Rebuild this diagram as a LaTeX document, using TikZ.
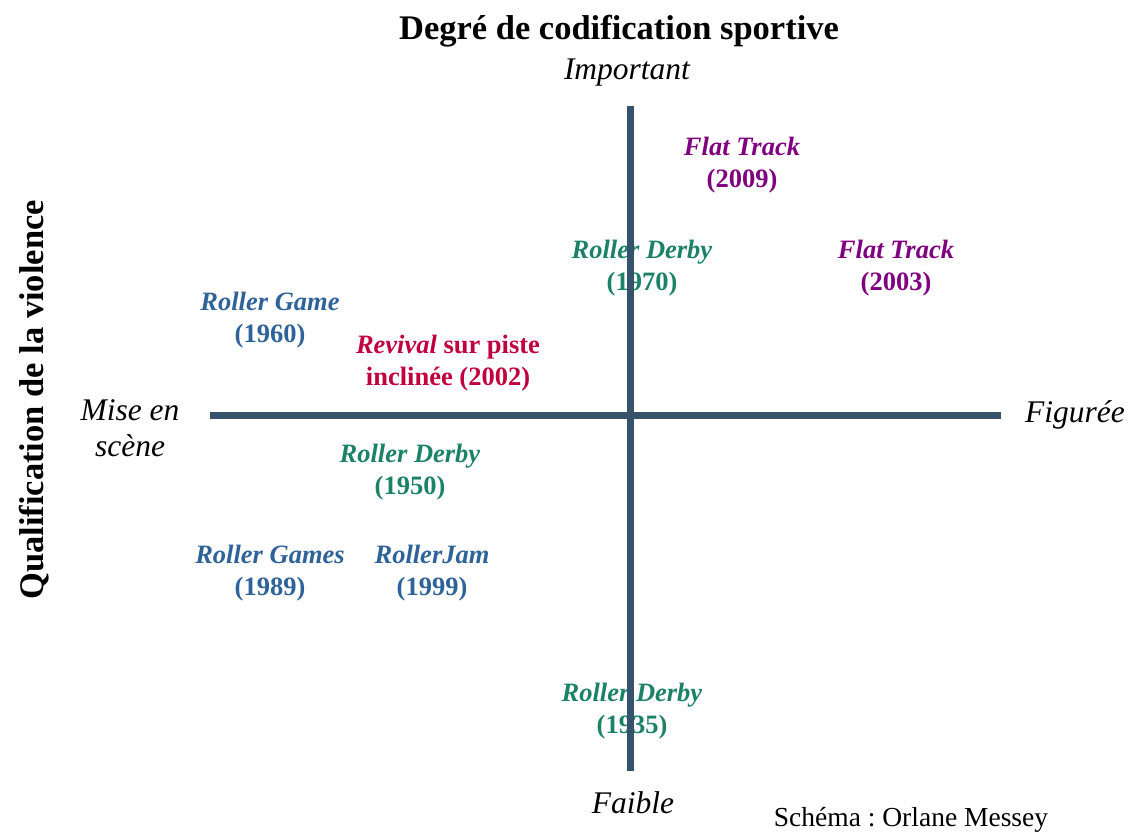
\documentclass[tikz,border=0pt]{standalone}
\usepackage{fontspec}
\setmainfont{Liberation Serif}
\usepackage{tikz}
\usetikzlibrary{positioning}
\definecolor{axe}{HTML}{36536B}
\definecolor{bleu}{HTML}{2E6399}
\definecolor{vert}{HTML}{1B8268}
\definecolor{violet}{HTML}{7F007F}
\definecolor{rouge}{HTML}{C0003F}
\frenchspacing

\begin{document}
\begin{tikzpicture} [x=1pt,y=-1pt,
    axis/.style={line width=7pt,draw=axe},
    pole/.style={font=\fontsize{31.5}{36}\selectfont\itshape,align=center,inner sep=0pt},
    era/.style={font=\fontsize{26.5}{32}\selectfont\bfseries,align=center,inner sep=0pt}]
       \useasboundingbox (0,0) rectangle (1130,832);
       % titres
       \node[font=\fontsize{34.5}{40}\selectfont\bfseries] (titre) at (619,31) {Degré de codification sportive};
       \node[font=\fontsize{34.5}{40}\selectfont\bfseries,rotate=90] (violence) at (34,400) {Qualification de la violence};
       \node[font=\fontsize{27.5}{32}\selectfont] (auteur) at (911,820) {Schéma : Orlane Messey};
       % poles
       \node[pole] (haut) at (627,73) {Important};
       \node[pole] (bas) at (633,803) {Faible};
       \node[pole] (droite) at (1075,415) {Figurée};
       \node[pole] (gauche) at (130,428) {Mise en\\scène};
       % periodes
       \node[era,text=violet] (ft09) at (742,165) {\textit{Flat Track}\\(2009)};
       \node[era,text=violet] (ft03) at (896,268) {\textit{Flat Track}\\(2003)};
       \node[era,text=vert] (rd70) at (642,268) {\textit{Roller Derby}\\(1970)};
       \node[era,text=bleu] (rg60) at (270,320) {\textit{Roller Game}\\(1960)};
       \node[era,text=rouge] (rev02) at (448,363) {\textit{Revival} sur piste\\inclinée (2002)};
       \node[era,text=vert] (rd50) at (410,472) {\textit{Roller Derby}\\(1950)};
       \node[era,text=bleu] (rg89) at (270,573) {\textit{Roller Games}\\(1989)};
       \node[era,text=bleu] (rj99) at (432,573) {\textit{RollerJam}\\(1999)};
       \node[era,text=vert] (rd35) at (632,711) {\textit{Roller Derby}\\(1935)};
       % axes
       \coordinate (n) at (630,106);
       \coordinate (s) at (630,771);
       \coordinate (w) at (210,415);
       \coordinate (e) at (1001,415);
       \draw[axis] (w) -- (e);
       \draw[axis] (n) -- (s);
    \end{tikzpicture}
\end{document}
